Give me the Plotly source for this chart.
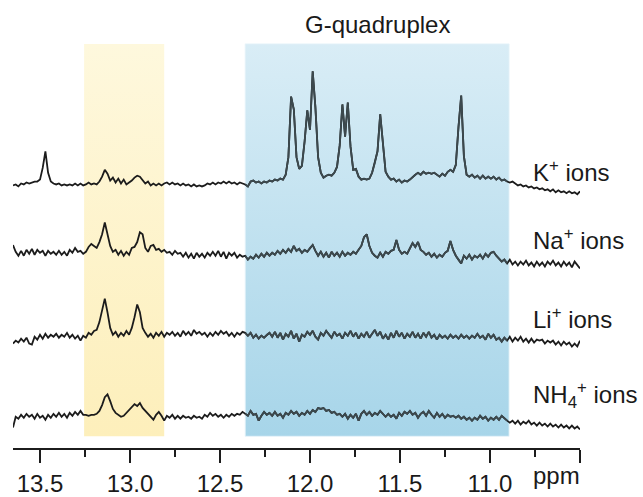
import plotly.graph_objects as go

# Chemical-shift axis of the sampled spectra (ppm, descending)
ppm_start = 13.65
ppm_step = 0.015
n_points = 211
ppm = [round(ppm_start - i * ppm_step, 4) for i in range(n_points)]

# Imino-proton region intensities (arbitrary units) for each cation
k_ions = [
    -1, 0, -2, 1, 0, 2, 1, 2, 3, 3,
    5, 17, 34, 12, 3, 1, 0, 1, -1, 0,
    -1, 0, -1, 1, -1, 1, -1, 0, 2, 0,
    1, 0, 3, 8, 15, 11, 4, 7, 2, 6,
    1, 5, 0, 2, 4, 7, 9, 8, 5, 1,
    3, -1, 1, -1, 1, -1, 1, 2, 0, 2,
    0, 1, -1, 1, -1, 0, -2, 0, -2, -1,
    -2, -1, 1, 0, 2, 0, 2, 1, 3, 1,
    3, 1, 2, 0, 2, 1, 0, -2, 3, 4,
    2, 3, 1, 3, 2, 4, 3, 5, 4, 6,
    5, 10, 28, 90, 77, 28, 16, 19, 44, 76,
    56, 116, 79, 28, 12, 7, 9, 10, 9, 12,
    18, 40, 82, 49, 84, 39, 15, 16, 8, 5,
    6, 5, 6, 12, 22, 34, 72, 39, 13, 8,
    5, 6, 3, 5, 2, 4, 3, 5, 8, 10,
    12, 10, 13, 11, 12, 11, 12, 10, 8, 11,
    9, 13, 15, 13, 20, 59, 91, 29, 10, 8,
    10, 7, 9, 6, 9, 6, 8, 6, 8, 5,
    7, 4, 5, 3, 2, 3, 1, -1, 0, -2,
    -1, -3, -2, -4, -3, -5, -4, -6, -5, -7,
    -5, -8, -6, -8, -7, -9, -7, -9, -8, -10, -7,
]

na_ions = [
    9, 2, -2, 3, -2, 4, 0, 5, -1, 4,
    1, 3, -2, 3, 0, 2, -1, 3, -1, 2,
    -2, 4, 1, 6, 2, 3, 0, 2, 7, 10,
    8, 6, 12, 20, 32, 20, 8, 2, 4, -1,
    3, -2, 2, -1, 6, 7, 12, 22, 20, 6,
    2, 8, 9, 4, 5, 2, 4, 1, 2, -1,
    3, 0, 1, -3, 1, -4, 0, -5, 1, -3,
    0, -4, 1, -2, 2, -2, 3, -3, 2, -5,
    1, -2, 1, -4, -1, -3, -2, -6, -3, -5,
    -1, -4, 0, -3, 1, -2, 1, -1, 3, 0,
    4, 1, 5, 2, 8, 3, 5, 1, 4, 2,
    6, 9, 3, -2, 2, -3, 1, -4, 2, -2,
    1, -3, 2, -2, 1, -1, 2, 0, 4, 8,
    17, 20, 8, 1, -2, -4, 1, -3, 2, 0,
    3, 4, 14, 4, 0, 2, 0, 5, 11, 7,
    12, 4, 2, -1, 1, -3, 0, -4, -1, -3,
    1, 3, 13, 4, -2, -6, -10, -2, -5, -1,
    -6, -2, -4, -1, -5, 0, -3, 1, 2, -2,
    -5, -8, -6, -10, -6, -11, -8, -12, -8, -11,
    -7, -12, -9, -13, -8, -12, -9, -13, -8, -11,
    -7, -12, -9, -13, -8, -12, -9, -14, -8, -11, -15,
]

li_ions = [
    -8, -5, -7, -3, -6, -2, -8, -9, -1, -4,
    1, -3, 2, -2, 1, -1, 2, -2, 1, -1,
    3, -2, 1, -3, 0, -5, 0, -2, 3, 1,
    5, 6, 14, 26, 38, 24, 8, 1, 4, -1,
    3, 0, 5, 1, 8, 19, 32, 24, 8, 3,
    -1, 2, -2, 3, 0, 4, -1, 3, 1, 4,
    0, 3, -1, 5, 1, 4, 0, 6, 2, 4,
    1, 3, -1, 3, 0, 4, 1, 5, 2, 4,
    0, 3, -1, 3, 1, 4, 3, 0, 3, -2,
    1, -3, 0, -2, 1, 3, -1, 4, -2, 3,
    -4, 2, -1, 5, -3, 2, -6, 1, -1, 4,
    1, 5, -1, -4, 3, 0, 5, 1, -2, 4,
    0, 2, -3, 3, 0, 5, -1, 3, -3, 2,
    -1, 4, -2, 2, 6, 0, 4, -3, 1, -4,
    3, -2, 5, -1, 3, -3, 2, -1, 4, -2,
    2, -3, 3, -1, 4, -2, 1, -4, 1, -2,
    0, -3, 1, -2, 0, -3, 1, -2, 0, -3,
    0, -2, 2, -2, 0, -4, 2, -2, 1, -4,
    -2, -6, -2, -5, -1, -6, -2, -5, -1, -6,
    -3, -7, -3, -7, -4, -5, -4, -8, -5, -7,
    -5, -9, -6, -10, -6, -9, -7, -11, -8, -11, -5,
]

nh4_ions = [
    -11, 0, -2, 2, -1, 3, 0, 2, -2, 3,
    -1, 1, -3, 2, -1, 3, 0, 4, 0, 3,
    -1, 4, 1, 5, 2, 6, 2, 2, 1, 2,
    2, 3, 6, 12, 20, 23, 16, 8, 4, 2,
    0, 1, 4, 7, 9, 13, 11, 14, 9, 6,
    2, -1, -3, 2, 5, 1, -4, 1, -1, 2,
    -2, 1, -2, 1, -1, 0, -2, 1, -1, 0,
    -2, 2, 0, 4, 1, 3, 0, 2, -1, 2,
    0, 3, 1, 3, 2, 5, 3, 1, 6, 2,
    3, -4, 1, 5, 2, 4, 1, 5, 1, 3,
    -1, 4, 2, 6, 3, 5, 1, 4, 2, 6,
    3, 7, 5, 9, 8, 9, 6, 7, 4, 5,
    2, 3, 0, 3, -2, 2, -1, 3, -4, 3,
    6, 2, 5, 1, 4, 2, 6, 3, 0, 3,
    0, 2, -2, 4, 1, 5, 3, 6, 2, 4,
    -1, 3, 5, 1, 6, 2, -1, 4, 0, 3,
    -1, 2, 0, 1, -1, 1, -2, 0, -3, -1,
    -4, -1, -3, 1, -2, 0, -4, -1, -3, 0,
    -3, 1, -2, -4, -6, -4, -7, -4, -8, -5,
    -7, -4, -8, -6, -9, -6, -9, -7, -10, -7,
    -10, -8, -11, -8, -11, -9, -12, -9, -12, -10, -13,
]

spectra = [k_ions, na_ions, li_ions, nh4_ions]
labels = ["K<sup>+</sup> ions", "Na<sup>+</sup> ions", "Li<sup>+</sup> ions",
          "NH<sub>4</sub><sup>+</sup> ions"]

# Shaded regions (ppm limits)
yellow_region = (13.255, 12.81)
gq_region = (12.36, 10.894)
gq_title = "G-quadruplex"

# Vertical placement of the stacked spectra and their labels
offsets = [270, 199, 115, 32]
label_y = [284, 214, 133, 54]
band_bottom, band_top = 12, 414
line_colour = "#1c1c1c"
line_in_band = "#3c494e"
font_family = "Liberation Sans, Arial"

fig = go.Figure()


def band(x0, x1, bottom_col, top_col, edge):
    fig.add_trace(go.Scatter(
        x=[x0, x0, x1, x1, x0],
        y=[band_bottom, band_top, band_top, band_bottom, band_bottom],
        mode="lines", line=dict(color=edge, width=1),
        fill="toself",
        fillgradient=dict(type="vertical",
                          colorscale=[[0, bottom_col], [1, top_col]]),
        hoverinfo="skip", showlegend=False,
    ))


band(*yellow_region, "#fdefbb", "#fef8dd", "rgba(0,0,0,0)")
band(*gq_region, "#a7d5e9", "#d9edf6", "rgba(230,243,250,0.9)")

for spec, off in zip(spectra, offsets):
    y = [off + v for v in spec]
    fig.add_trace(go.Scatter(
        x=ppm, y=y, mode="lines",
        line=dict(color=line_colour, width=1.8),
        hoverinfo="skip", showlegend=False,
    ))
    # segment inside the G-quadruplex region is drawn slightly lighter
    idx = [i for i, p in enumerate(ppm) if gq_region[1] <= p <= gq_region[0]]
    fig.add_trace(go.Scatter(
        x=[ppm[i] for i in idx], y=[y[i] for i in idx], mode="lines",
        line=dict(color=line_in_band, width=1.8),
        hoverinfo="skip", showlegend=False,
    ))

for text, ly in zip(labels, label_y):
    fig.add_annotation(x=1.0, xref="paper", xanchor="left", xshift=-49,
                       y=ly, yref="y", yanchor="middle", text=text,
                       showarrow=False,
                       font=dict(family=font_family, size=24, color="#1a1a1a"))

fig.add_annotation(x=sum(gq_region) / 2, xref="x", y=434, yref="y",
                   text=gq_title, showarrow=False, yanchor="middle",
                   font=dict(family=font_family, size=24, color="#1a1a1a"))

fig.add_annotation(x=10.63, xref="x", y=0, yref="paper", yanchor="top",
                   yshift=-12, text="ppm", showarrow=False,
                   font=dict(family=font_family, size=24, color="#1a1a1a"))

major = [13.5, 13.0, 12.5, 12.0, 11.5, 11.0, 10.5]
major_text = ["13.5", "13.0", "12.5", "12.0", "11.5", "11.0", ""]
minor = [13.25, 12.75, 12.25, 11.75, 11.25, 10.75]

fig.update_layout(
    width=643, height=497,
    margin=dict(l=13, r=63, t=0, b=38),
    paper_bgcolor="white", plot_bgcolor="white",
    showlegend=False,
    xaxis=dict(range=[13.65, 10.5], showgrid=False, zeroline=False,
               showline=True, linecolor="#1c1c1c", linewidth=1.6,
               ticks="outside", ticklen=13, tickwidth=1.6,
               tickcolor="#1c1c1c",
               tickvals=major, ticktext=major_text,
               tickfont=dict(family=font_family, size=24, color="#1a1a1a"),
               minor=dict(tickvals=minor, ticks="outside", ticklen=7,
                          tickwidth=1.6, tickcolor="#1c1c1c",
                          showgrid=False)),
    yaxis=dict(range=[0, 459], visible=False, fixedrange=True),
)

fig.write_html("out.html")
